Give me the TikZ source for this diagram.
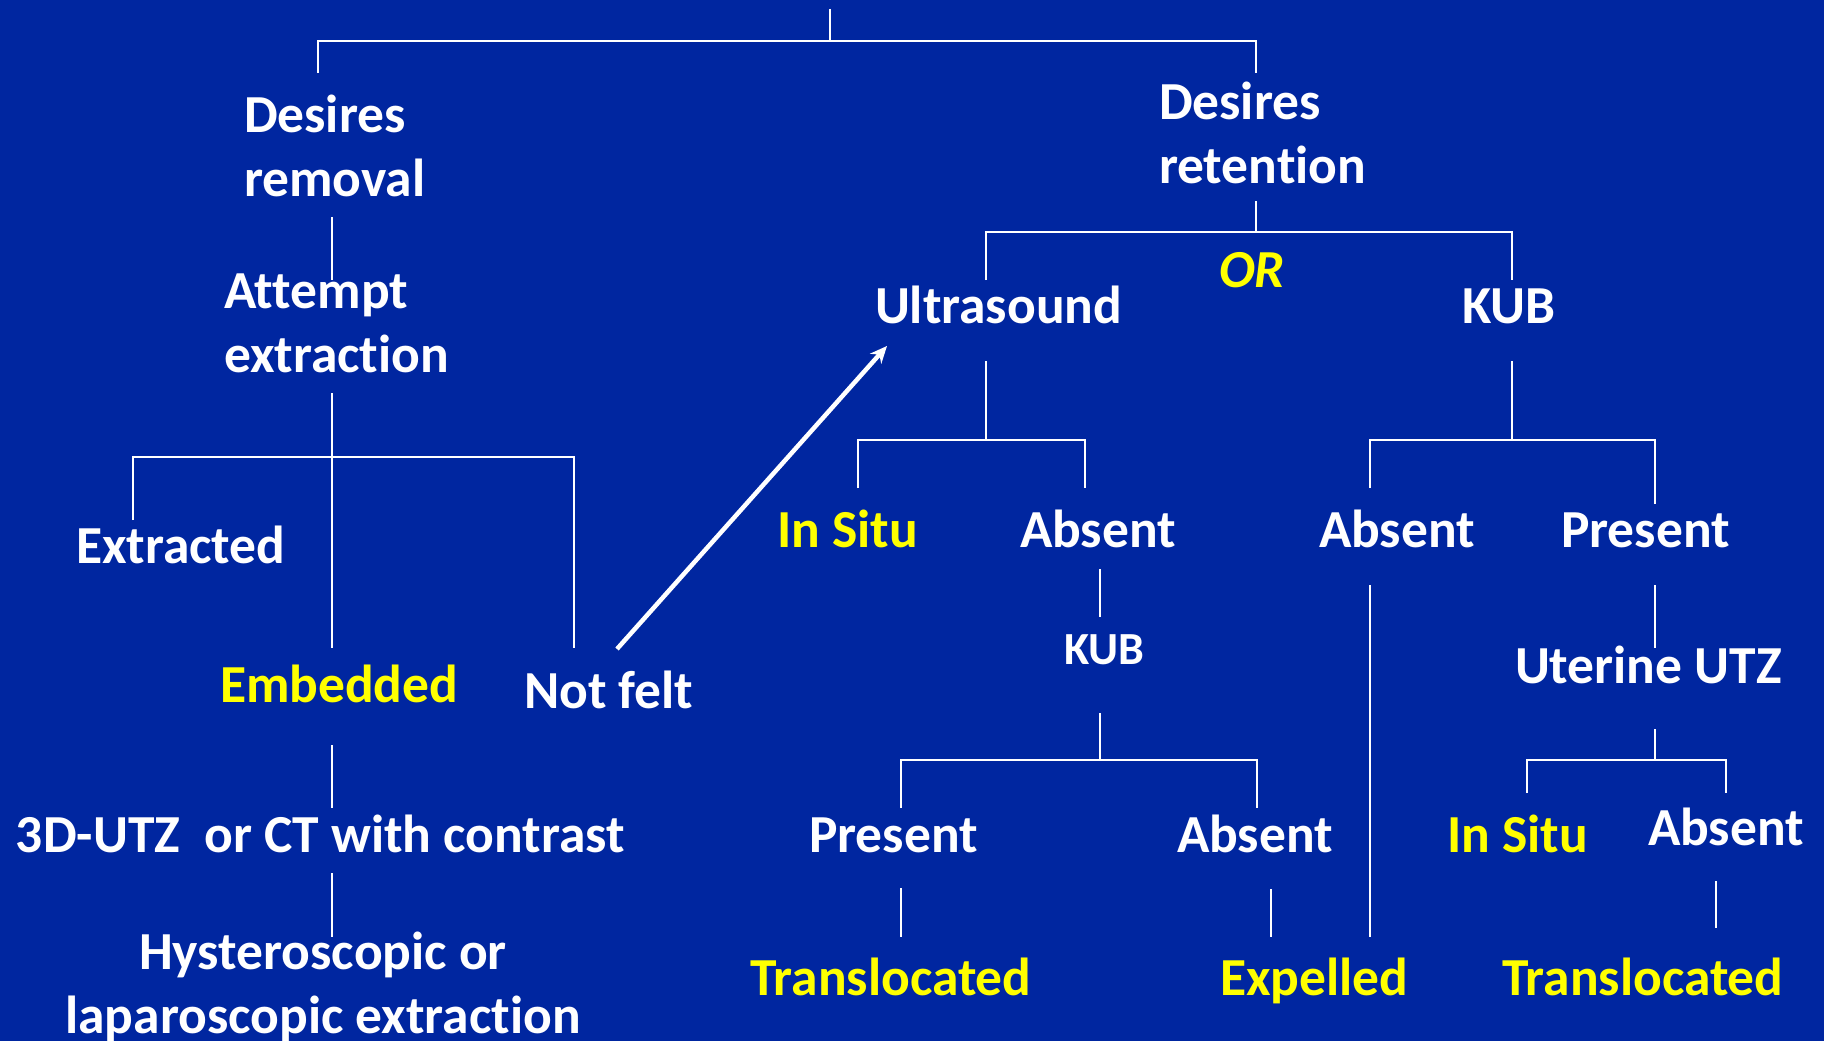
\documentclass[tikz,border=0pt]{standalone}
\usepackage{fontspec}
\setmainfont{Carlito}[Ligatures=NoCommon]
\usetikzlibrary{arrows.meta}
\definecolor{bgblue}{RGB}{0,38,160}
\definecolor{hiyellow}{RGB}{255,255,0}
\begin{document}
\begin{tikzpicture}[x=1pt,y=-1pt,
  lbl/.style={inner sep=0pt,outer sep=0pt,text=white,font=\fontsize{53.5}{64}\selectfont\bfseries,anchor=base west},
  ylbl/.style={lbl,text=hiyellow},
  smalllbl/.style={lbl,font=\fontsize{46}{54}\selectfont\bfseries},
  link/.style={draw=white,line width=2.5pt},
  jump/.style={draw=white,line width=4.5pt,-{Stealth[length=17pt,width=15pt]}}]
\fill[bgblue] (0,0) rectangle (1824,1041);
\useasboundingbox (0,0) rectangle (1824,1041);
% nodes (multi-line nodes are placed by the baseline of their last line)
\node[lbl,align=left] (remove) at (244,196) {Desires\\removal};
\node[lbl,align=left] (attempt) at (224,372) {Attempt\\extraction};
\node[lbl] (extracted) at (76,563) {Extracted};
\node[ylbl] (embedded) at (220,702) {Embedded};
\node[lbl] (notfelt) at (524,708) {Not felt};
\node[lbl] (imaging) at (16,852) {3D-UTZ\ \ or CT with contrast};
\node[lbl,align=center,anchor=base] (hystero) at (323,1033) {Hysteroscopic or\\laparoscopic extraction};
\node[lbl,align=left] (retain) at (1159,183) {Desires\\retention};
\node[ylbl,font=\fontsize{53.5}{64}\selectfont\bfseries\itshape] (or) at (1219,287) {OR};
\node[lbl] (ultra) at (875,323) {Ultrasound};
\node[lbl] (kub) at (1462,323) {KUB};
\node[ylbl] (insitu1) at (777,547) {In Situ};
\node[lbl] (absent1) at (1020,547) {Absent};
\node[lbl] (absent2) at (1319,547) {Absent};
\node[lbl] (present1) at (1561,547) {Present};
\node[smalllbl] (kub2) at (1064,664) {KUB};
\node[lbl] (uterine) at (1515,683) {Uterine UTZ};
\node[lbl] (present2) at (809,852) {Present};
\node[lbl] (absent3) at (1177,852) {Absent};
\node[ylbl] (insitu2) at (1447,852) {In Situ};
\node[lbl] (absent4) at (1648,845) {Absent};
\node[ylbl] (transl1) at (750,995) {Translocated};
\node[ylbl] (expelled) at (1220,995) {Expelled};
\node[ylbl] (transl2) at (1502,995) {Translocated};
% connectors
\path[link] (830,9) -- (830,41);
\path[link] (318,73) -- (318,41) -- (1256,41) -- (1256,73);
\path[link] (332,217) -- (332,280);
\path[link] (332,393) -- (332,648);
\path[link] (133,520) -- (133,457) -- (574,457) -- (574,648);
\coordinate (arrtail) at (617,649);
\coordinate (arrhead) at (887,346);
\path[jump] (arrtail) -- (arrhead);
\path[link] (332,745) -- (332,808);
\path[link] (332,873) -- (332,937);
\path[link] (1256,201) -- (1256,232);
\path[link] (986,280) -- (986,232) -- (1512,232) -- (1512,280);
\path[link] (986,361) -- (986,440);
\path[link] (858,488) -- (858,440) -- (1085,440) -- (1085,488);
\path[link] (1512,361) -- (1512,440);
\path[link] (1370,488) -- (1370,440) -- (1655,440) -- (1655,504);
\path[link] (1100,569) -- (1100,617);
\path[link] (1100,713) -- (1100,760);
\path[link] (901,808) -- (901,760) -- (1257,760) -- (1257,808);
\path[link] (1370,585) -- (1370,937);
\path[link] (1655,585) -- (1655,648);
\path[link] (1655,729) -- (1655,760);
\path[link] (1527,793) -- (1527,760) -- (1726,760) -- (1726,793);
\path[link] (901,888) -- (901,937);
\path[link] (1271,889) -- (1271,937);
\path[link] (1716,881) -- (1716,928);
\end{tikzpicture}
\end{document}
